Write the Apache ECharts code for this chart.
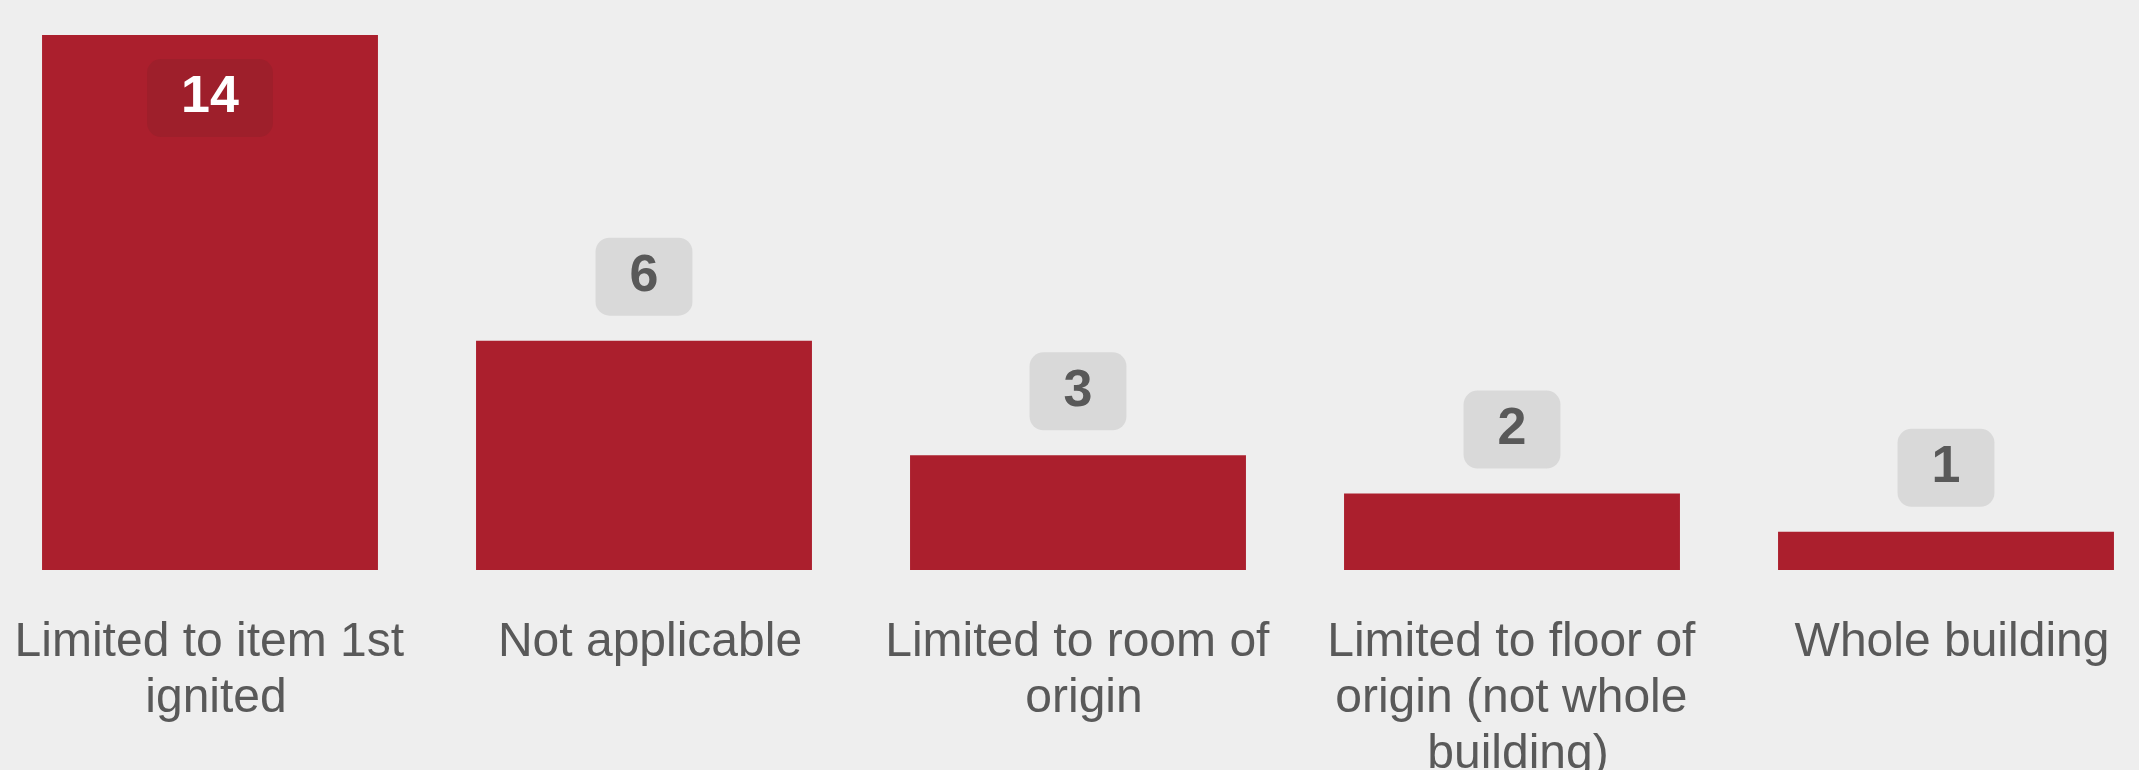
<!DOCTYPE html>
<html>
<head>
<meta charset="utf-8">
<script src="https://cdn.jsdelivr.net/npm/echarts@6/dist/echarts.min.js"></script>
<style>
html,body{margin:0;padding:0;background:#eeeeee;}
#chart{width:2139px;height:770px;}
</style>
</head>
<body>
<div id="chart"></div>
<script>
const categories = ['Limited to item 1st ignited', 'Not applicable', 'Limited to room of origin', 'Limited to floor of origin (not whole building)', 'Whole building'];
const values = [14, 6, 3, 2, 1];

const barColor = '#ab1f2d';
const outsideLabel = {
  show: true, position: 'top', distance: 25,
  fontFamily: 'Liberation Sans, Arial, sans-serif', fontWeight: 'bold', fontSize: 52, lineHeight: 52,
  color: '#595959', backgroundColor: '#d9d9d9', borderRadius: 14, padding: [13, 34]
};
const insideLabel = Object.assign({}, outsideLabel, {
  position: 'insideTop', distance: 24, color: '#ffffff', backgroundColor: '#9e1f2b'
});
const maxVal = Math.max(...values);
const data = values.map(v => ({
  value: v,
  label: v === maxVal ? insideLabel : outsideLabel
}));

const chart = echarts.init(document.getElementById('chart'));
chart.setOption({
  backgroundColor: '#eeeeee',
  animation: false,
  grid: { left: -7, right: -24, top: 35, bottom: 200, containLabel: false, outerBoundsMode: 'none' },
  xAxis: {
    type: 'category', data: categories,
    axisLine: { show: false }, axisTick: { show: false },
    axisLabel: {
      interval: 0, margin: 45, color: '#595959',
      fontFamily: 'Liberation Sans, Arial, sans-serif', fontSize: 48, lineHeight: 56,
      width: 420, overflow: 'break', align: 'center', padding: [0, 0, 0, 12]
    }
  },
  yAxis: { type: 'value', min: 0, max: 14, show: false, splitLine: { show: false } },
  series: [{
    type: 'bar', data: data, barCategoryGap: '22.6%',
    itemStyle: { color: barColor }
  }]
});
</script>
</body>
</html>
